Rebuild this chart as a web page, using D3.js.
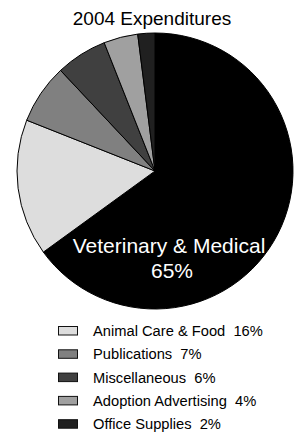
<!DOCTYPE html>
<html><head><meta charset="utf-8">
<script src="https://cdn.jsdelivr.net/npm/d3@7"></script>
<style>html,body{margin:0;padding:0;background:#fff;}svg{display:block;font-family:"Liberation Sans",Arial,sans-serif;}</style>
</head><body>
<script>
const title = "2004 Expenditures";
const categories = ["Veterinary & Medical","Animal Care & Food","Publications","Miscellaneous","Adoption Advertising","Office Supplies"];
const values = [65,16,7,6,4,2];
const colors = ["#000000","#dddddd","#808080","#404040","#a0a0a0","#202020"];
const legendItems = [1,2,3,4,5];

const W = 295, H = 444;
const cx = 155, cy = 171, R = 138;
const svg = d3.select("body").append("svg").attr("width",W).attr("height",H);

svg.append("text").attr("x",152).attr("y",25).attr("text-anchor","middle")
  .attr("font-size",19).attr("fill","#000").text(title);

const pie = d3.pie().sort(null).value(d=>d)(values);
const arc = d3.arc().innerRadius(0).outerRadius(R);
const g = svg.append("g").attr("transform",`translate(${cx},${cy})`);
g.selectAll("path").data(pie).join("path")
  .attr("d",arc).attr("fill",(d,i)=>colors[i])
  .attr("stroke","#000").attr("stroke-width",1).attr("stroke-linejoin","round");

svg.append("text").attr("x",169).attr("y",253).attr("text-anchor","middle")
  .attr("font-size",21).attr("fill","#fff").text(categories[0]);
svg.append("text").attr("x",172).attr("y",278).attr("text-anchor","middle")
  .attr("font-size",21).attr("fill","#fff").text(values[0]+"%");

const y0 = 336, dy = 23.3;
const lg = svg.append("g");
legendItems.forEach((idx,k)=>{
  const by = y0 + k*dy;
  lg.append("rect").attr("x",58.5).attr("y",by-9.5).attr("width",19).attr("height",8.5)
    .attr("fill",colors[idx]).attr("stroke","#111").attr("stroke-width",1);
  lg.append("text").attr("x",93).attr("y",by).attr("font-size",14.7).attr("fill","#000")
    .text(categories[idx]+" \u00a0"+values[idx]+"%");
});
</script>
</body></html>
